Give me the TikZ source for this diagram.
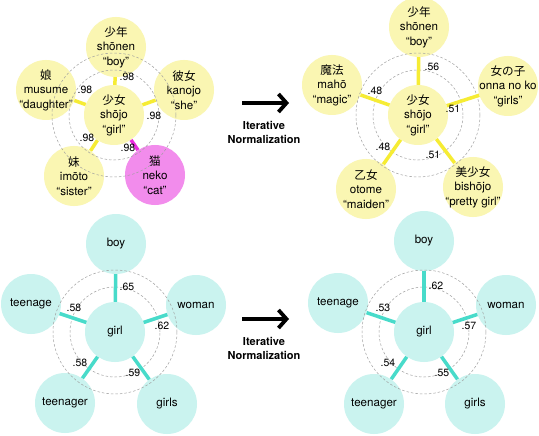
\documentclass[tikz,border=0pt]{standalone}
\usepackage{fontspec}
\setmainfont{TeX Gyre Heros}
\newfontfamily\jp{Noto Sans CJK JP}
\usetikzlibrary{arrows.meta}
\definecolor{yelfill}{RGB}{250,246,178}
\definecolor{yelline}{RGB}{246,236,52}
\definecolor{magfill}{RGB}{242,140,236}
\definecolor{magline}{RGB}{232,44,222}
\definecolor{cyafill}{RGB}{202,243,239}
\definecolor{cyaline}{RGB}{72,219,202}
\tikzset{
  word/.style={circle, inner sep=-20pt, minimum size=60pt, align=center,
    font=\fontsize{11.6}{14.5}\selectfont},
  yel/.style={word, fill=yelfill},
  mag/.style={word, fill=magfill},
  cya/.style={word, fill=cyafill},
  ring/.style={gray!75, line width=0.5pt, dash pattern=on 2.5pt off 2pt},
  yspoke/.style={draw=yelline, line width=3.5pt},
  mspoke/.style={draw=magline, line width=3.5pt},
  cspoke/.style={draw=cyaline, line width=3.5pt},
  wt/.style={inner sep=0pt, font=\fontsize{10.5}{12}\selectfont},
  iter/.style={align=center, font=\bfseries\fontsize{11}{14}\selectfont},
  bigarrow/.style={line width=3.8pt, -{Straight Barb[length=8pt,width=18pt]}}
}
\begin{document}
\begin{tikzpicture}[x=1pt, y=-1pt]
  \path[use as bounding box, fill=white] (0,0) rectangle (539,436);
  % top left: Japanese neighbours before
  \node[yel] (tlc) at (114,115) {{\jp 少女}\\shōjo\\“girl”};
  \node[yel] (tl1) at (116,47) {{\jp 少年}\\shōnen\\“boy”};
  \node[yel] (tl2) at (46,90) {{\jp 娘}\\musume\\“daughter”};
  \node[yel] (tl3) at (184,90) {{\jp 彼女}\\kanojo\\“she”};
  \node[yel] (tl4) at (74,176) {{\jp 妹}\\imōto\\“sister”};
  \node[mag] (tl5) at (155,175) {{\jp 猫}\\neko\\“cat”};
  % top right: Japanese neighbours after
  \node[yel] (trc) at (418,115) {{\jp 少女}\\shōjo\\“girl”};
  \node[yel] (tr1) at (419,27) {{\jp 少年}\\shōnen\\“boy”};
  \node[yel] (tr2) at (332,85) {{\jp 魔法}\\mahō\\“magic”};
  \node[yel] (tr3) at (508,86) {{\jp 女の子}\\onna no ko\\“girls”};
  \node[yel] (tr4) at (366,189) {{\jp 乙女}\\otome\\“maiden”};
  \node[yel] (tr5) at (473,187) {{\jp 美少女}\\bishōjo\\“pretty girl”};
  % bottom left: English neighbours before
  \node[cya] (blc) at (115,332) {girl};
  \node[cya] (bl1) at (116,244) {boy};
  \node[cya] (bl2) at (31,304) {teenage};
  \node[cya] (bl3) at (196,305) {woman};
  \node[cya] (bl4) at (65,403) {teenager};
  \node[cya] (bl5) at (167,404) {girls};
  % bottom right: English neighbours after
  \node[cya] (brc) at (424,332) {girl};
  \node[cya] (br1) at (424,241) {boy};
  \node[cya] (br2) at (338,303) {teenage};
  \node[cya] (br3) at (506,305) {woman};
  \node[cya] (br4) at (374,404) {teenager};
  \node[cya] (br5) at (475,404) {girls};
  % dashed rings
  \foreach \c in {tlc,trc,blc,brc}
    \draw[ring] (\c) circle (45pt) (\c) circle (62pt);
  % spokes
  \foreach \i in {1,...,4} \draw[yspoke] (tlc) -- (tl\i);
  \draw[mspoke] (tlc) -- (tl5);
  \foreach \i in {1,...,5} {
    \draw[yspoke] (trc) -- (tr\i);
    \draw[cspoke] (blc) -- (bl\i);
    \draw[cspoke] (brc) -- (br\i);
  }
  % similarity labels
  \node[wt] (wtl1) at (127,77) {.98};
  \node[wt] (wtl2) at (85,90) {.98};
  \node[wt] (wtl3) at (154,116) {.98};
  \node[wt] (wtl4) at (87,138) {.98};
  \node[wt] (wtl5) at (128,148) {.98};
  \node[wt] (wtr1) at (432,67) {.56};
  \node[wt] (wtr2) at (375,91) {.48};
  \node[wt] (wtr3) at (453,109) {.51};
  \node[wt] (wtr4) at (383,147) {.48};
  \node[wt] (wtr5) at (433,155) {.51};
  \node[wt] (wbl1) at (127,287) {.65};
  \node[wt] (wbl2) at (74,308) {.58};
  \node[wt] (wbl3) at (162,326) {.62};
  \node[wt] (wbl4) at (80,363) {.58};
  \node[wt] (wbl5) at (133,373) {.59};
  \node[wt] (wbr1) at (436,286) {.62};
  \node[wt] (wbr2) at (383,308) {.53};
  \node[wt] (wbr3) at (469,326) {.57};
  \node[wt] (wbr4) at (388,363) {.54};
  \node[wt] (wbr5) at (442,373) {.55};
  % arrows
  \coordinate (upA) at (242,103);
  \coordinate (upB) at (289,103);
  \draw[bigarrow] (upA) -- (upB);
  \node[iter] (upT) at (264,132) {Iterative\\Normalization};
  \coordinate (loA) at (242,319);
  \coordinate (loB) at (289,319);
  \draw[bigarrow] (loA) -- (loB);
  \node[iter] (loT) at (264,348) {Iterative\\Normalization};
\end{tikzpicture}
\end{document}
